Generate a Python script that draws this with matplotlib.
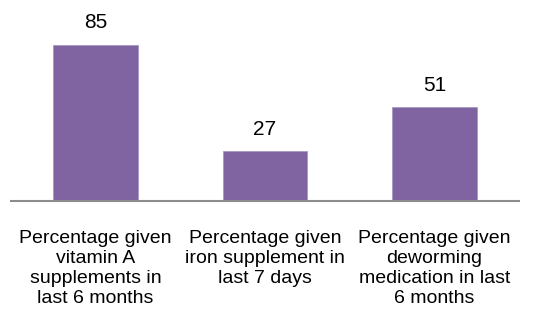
import matplotlib.pyplot as plt

categories = [
    "Percentage given\nvitamin A\nsupplements in\nlast 6 months",
    "Percentage given\niron supplement in\nlast 7 days",
    "Percentage given\ndeworming\nmedication in last\n6 months",
]
values = [85, 27, 51]

plt.rcParams["font.family"] = ["Liberation Sans", "DejaVu Sans"]

fig = plt.figure(figsize=(5.46, 3.16), dpi=100)
ax = fig.add_axes([0.020, 0.364, 0.9305, 0.5806])

x = range(len(values))
bars = ax.bar(x, values, width=0.5, color="#8064A2", edgecolor="#A898C4", linewidth=0.6)
for b, v in zip(bars, values):
    ax.text(b.get_x() + b.get_width() / 2, v + 7, str(v),
            ha="center", va="bottom", fontsize=15)

ax.set_xlim(-0.5, 2.5)
ax.set_ylim(0, 100)
ax.set_yticks([])
ax.set_xticks(list(x))
ax.set_xticklabels(categories, fontsize=14, linespacing=1.22)
ax.tick_params(axis="x", length=0, pad=21)
for s in ["top", "right", "left"]:
    ax.spines[s].set_visible(False)
ax.spines["bottom"].set_color("#8C8C8C")
ax.spines["bottom"].set_linewidth(1.5)

fig.savefig("out.png", dpi=100)
